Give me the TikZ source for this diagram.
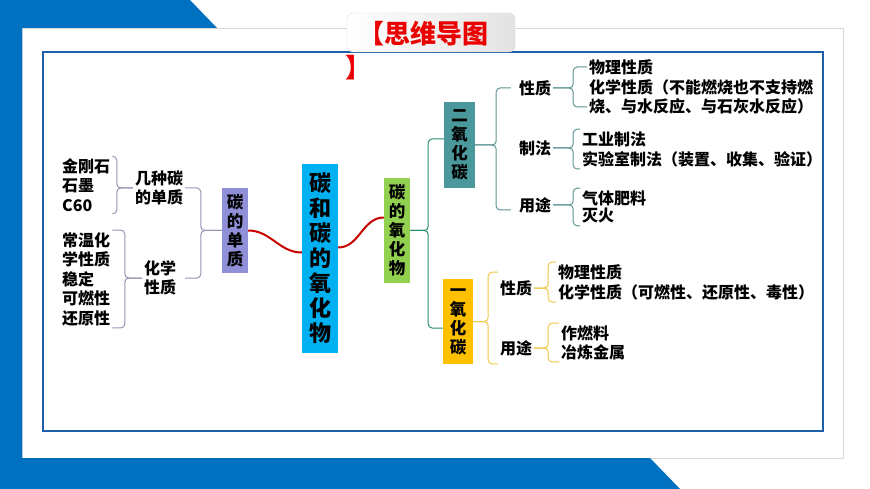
\documentclass[tikz,border=0pt]{standalone}
\usepackage{fontspec}
\setmainfont{Noto Sans CJK SC}
\usepackage{tikz}
\usetikzlibrary{calc}

\definecolor{topblue}{RGB}{0,112,192}
\definecolor{framecol}{RGB}{30,95,170}
\definecolor{panelgray}{RGB}{215,215,215}
\definecolor{titlered}{RGB}{235,0,0}
\definecolor{linkred}{RGB}{200,0,0}
\definecolor{mainblue}{RGB}{0,176,240}
\definecolor{boxlav}{RGB}{143,144,215}
\definecolor{boxgreen}{RGB}{146,208,80}
\definecolor{boxteal}{RGB}{74,152,156}
\definecolor{boxgold}{RGB}{255,192,0}
\definecolor{linelav}{RGB}{150,150,180}
\definecolor{linegreen}{RGB}{40,140,115}
\definecolor{lineteal}{RGB}{95,150,150}
\definecolor{linegold}{RGB}{240,200,70}

\tikzset{
	vbox/.style={fill=#1, inner sep=0pt, align=center, font=\bfseries\fontsize{16.5}{19}\selectfont},
	leaf/.style={inner sep=2pt, align=left, font=\bfseries\fontsize{16}{19.5}\selectfont},
	redlink/.style={draw=linkred, line width=2pt},
	bracelink/.style={draw=#1, line width=1pt, rounded corners=4pt},
}

\begin{document}
\begin{tikzpicture}[x=1pt, y=-1pt]
		\useasboundingbox (0,0) rectangle (870,489);
		% panel and frame
		\draw[panelgray, fill=white] (22,28) rectangle (843,458);
		\fill[topblue] (0,0) -- (190,0) -- (217,28) -- (22,28) -- (22,458) -- (650,458) -- (680,489) -- (0,489) -- cycle;
		\draw[framecol, line width=1.5pt] (43,52) rectangle (823,431);
		\shade[left color=white, right color=gray!22, draw=gray!30, rounded corners=6pt] (347,13) rectangle (515,52);
		\node[anchor=west, inner sep=0pt, text=titlered, font=\bfseries\fontsize{26}{30}\selectfont] (title) at (358,34) {【思维导图};
		\node[anchor=west, inner sep=0pt, text=titlered, font=\bfseries\fontsize{26}{30}\selectfont] (titleend) at (345,68) {】};
		
		% coloured boxes
		\node[vbox=mainblue, minimum width=36pt, minimum height=189pt, font=\bfseries\fontsize{22}{25}\selectfont] (main) at (320,258.5) {碳\\和\\碳\\的\\氧\\化\\物};
		\node[vbox=boxlav, minimum width=26pt, minimum height=85pt] (single) at (235,230.5) {碳\\的\\单\\质};
		\node[vbox=boxgreen, minimum width=26pt, minimum height=105pt] (oxide) at (397,230.5) {碳\\的\\氧\\化\\物};
		\node[vbox=boxteal, minimum width=31pt, minimum height=86pt] (dioxide) at (459.5,145) {二\\氧\\化\\碳};
		\node[vbox=boxgold, minimum width=30pt, minimum height=85pt] (monoxide) at (458,321.5) {一\\氧\\化\\碳};
		
		% left side
		\node[leaf, align=center] (kind) at (159,188) {几种碳\\的单质};
		\node[leaf, align=center] (chemL) at (160,278) {化学\\性质};
		\node[leaf, anchor=west] (forms) at (60,185) {金刚石\\石墨\\C60};
		\node[leaf, anchor=west] (props) at (60,279) {常温化\\学性质\\稳定\\可燃性\\还原性};
		
		% carbon dioxide
		\node[leaf] (prop1) at (535,88) {性质};
		\node[leaf] (make1) at (535,148) {制法};
		\node[leaf] (use1) at (535,205) {用途};
		\node[leaf, anchor=west] (phys1) at (587,67) {物理性质};
		\node[leaf, anchor=west] (chem1) at (587,97) {化学性质（不能燃烧也不支持燃\\烧、与水反应、与石灰水反应）};
		\node[leaf, anchor=west] (ind1) at (580,139) {工业制法};
		\node[leaf, anchor=west] (lab1) at (580,159) {实验室制法（装置、收集、验证）};
		\node[leaf, anchor=west] (gas1) at (580,198) {气体肥料};
		\node[leaf, anchor=west] (fire1) at (580,216) {灭火};
		
		% carbon monoxide
		\node[leaf] (prop2) at (516,288) {性质};
		\node[leaf] (use2) at (516,348) {用途};
		\node[leaf, anchor=west] (phys2) at (556,272) {物理性质};
		\node[leaf, anchor=west] (chem2) at (556,292) {化学性质（可燃性、还原性、毒性）};
		\node[leaf, anchor=west] (fuel2) at (559,333) {作燃料};
		\node[leaf, anchor=west] (metal2) at (559,352) {冶炼金属};
		
		% links
		\draw[redlink] (single.east) to[out=0, in=180] ($(main.west)+(0,-6)$);
		\draw[redlink] ($(main.east)+(0,-11)$) to[out=0, in=180] ($(oxide.west)+(0,-13)$);
		
		\draw[bracelink=linelav] (single.west) -- ++(-21,0) |- (kind.east);
		\draw[bracelink=linelav] (single.west) -- ++(-21,0) |- (chemL.east -| kind.east);
		\draw[bracelink=linelav] (kind.west) -- ++(-16,0) |- (forms.north east);
		\draw[bracelink=linelav] (kind.west) -- ++(-16,0) |- (forms.south east);
		\draw[bracelink=linelav] (chemL.west) -- ++(-17,0) |- (props.north east);
		\draw[bracelink=linelav] (chemL.west) -- ++(-17,0) |- (props.south east);
		
		\draw[bracelink=linegreen] (oxide.east) -- ++(18,0) |- ($(dioxide.west)+(0,-6)$);
		\draw[bracelink=linegreen] (oxide.east) -- ++(18,0) |- ($(monoxide.west)+(0,6.5)$);
		
		\draw[bracelink=lineteal] (dioxide.east) -- ++(21,0) |- ($(prop1.west)+(-6,0)$);
		\draw[bracelink=lineteal] (dioxide.east) -- ++(21,0) |- ($(use1.west)+(-6,5)$);
		\draw[bracelink=lineteal] (prop1.east) -- ++(20,0) |- (phys1.west);
		\draw[bracelink=lineteal] (prop1.east) -- ++(20,0) |- ($(chem1.west)+(0,10)$);
		\draw[bracelink=lineteal] (make1.east) -- ++(20,0) |- (ind1.north west);
		\draw[bracelink=lineteal] (make1.east) -- ++(20,0) |- (lab1.south west);
		\draw[bracelink=lineteal] (use1.east) -- ++(20,0) |- (gas1.north west);
		\draw[bracelink=lineteal] (use1.east) -- ++(20,0) |- (fire1.south west);
		
		\draw[bracelink=linegold] (monoxide.east) -- ++(15,0) |- ($(prop2.north west)+(0,-6)$);
		\draw[bracelink=linegold] (monoxide.east) -- ++(15,0) |- ($(use2.south west)+(0,6)$);
		\draw[bracelink=linegold] (prop2.east) -- ++(14,0) |- (phys2.north west);
		\draw[bracelink=linegold] (prop2.east) -- ++(14,0) |- (chem2.south west);
		\draw[bracelink=linegold] (use2.east) -- ++(14,0) |- (fuel2.north west);
		\draw[bracelink=linegold] (use2.east) -- ++(14,0) |- (metal2.south west);
	\end{tikzpicture}
\end{document}
